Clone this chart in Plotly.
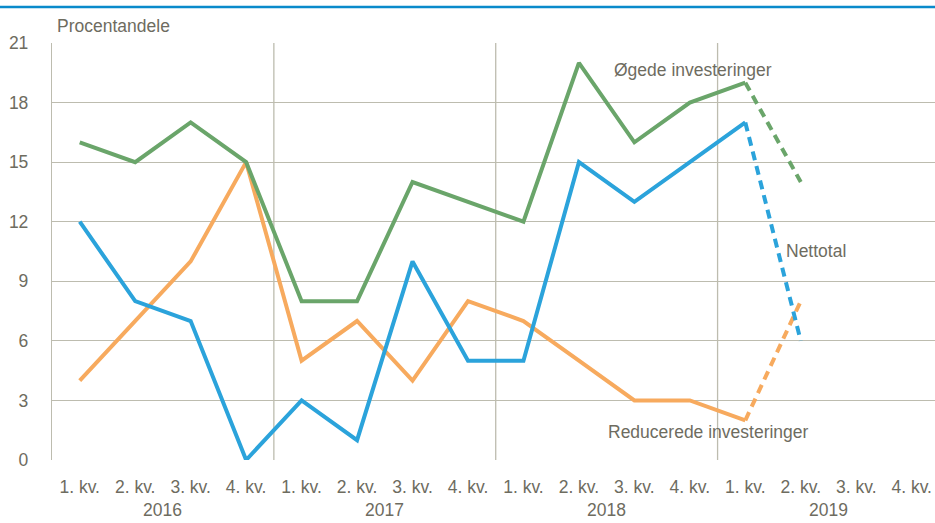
import plotly.graph_objects as go

quarters = ["1. kv.", "2. kv.", "3. kv.", "4. kv."] * 4
years = ["2016", "2017", "2018", "2019"]
oegede = [16, 15, 17, 15, 8, 8, 14, 13, 12, 20, 16, 18, 19, 14]
nettotal = [12, 8, 7, 0, 3, 1, 10, 5, 5, 15, 13, 15, 17, 6]
reducerede = [4, 7, 10, 15, 5, 7, 4, 8, 7, 5, 3, 3, 2, 8]
n_solid = 13  # observed values; last point is expectation (dashed)

C_GREEN = "#6aa56a"
C_BLUE = "#2ba3db"
C_ORANGE = "#f7aa5e"
TXT = "#6e6c5f"
GRID = "#bdbcaf"
FONT = "Liberation Sans, Arial, sans-serif"
FS = 17.5

x = list(range(len(quarters)))

fig = go.Figure()
for vals, col in [(reducerede, C_ORANGE), (oegede, C_GREEN), (nettotal, C_BLUE)]:
    fig.add_trace(go.Scatter(x=x[:n_solid], y=vals[:n_solid], mode="lines",
                             line=dict(color=col, width=4), hoverinfo="skip"))
    fig.add_trace(go.Scatter(x=x[n_solid - 1:len(vals)], y=vals[n_solid - 1:],
                             mode="lines", line=dict(color=col, width=4, dash="9px,6px"),
                             hoverinfo="skip"))

# year separators
for b in [3.5, 7.5, 11.5]:
    fig.add_shape(type="line", xref="x", yref="paper", x0=b, x1=b, y0=0, y1=1,
                  line=dict(color=GRID, width=1.3), layer="below")

# top blue rule
fig.add_shape(type="line", xref="paper", yref="paper", x0=-0.06, x1=1.0,
              y0=1.0 + 36 / 417, y1=1.0 + 36 / 417, line=dict(color="#0a8acb", width=2.5))

for i, yr in enumerate(years):
    fig.add_annotation(x=4 * i + 1.5, y=-50 / 417, yref="paper", xref="x", text=yr,
                       showarrow=False, font=dict(size=FS, color=TXT, family=FONT),
                       yanchor="middle")

fig.add_annotation(x=3 / 883, xref="paper", y=1.0 + 17 / 417, yref="paper",
                   text="Procentandele", showarrow=False, xanchor="left", yanchor="middle",
                   font=dict(size=FS, color=TXT, family=FONT))
fig.add_annotation(x=11.06, y=19.64, text="Øgede investeringer", showarrow=False,
                   font=dict(size=FS, color=TXT, family=FONT))
fig.add_annotation(x=13.27, y=10.55, text="Nettotal", showarrow=False,
                   font=dict(size=FS, color=TXT, family=FONT))
fig.add_annotation(x=11.33, y=1.41, text="Reducerede investeringer", showarrow=False,
                   font=dict(size=FS, color=TXT, family=FONT))

fig.update_layout(
    width=935, height=523,
    margin=dict(l=52, r=0, t=43, b=63),
    paper_bgcolor="white", plot_bgcolor="white",
    showlegend=False,
    font=dict(family=FONT, color=TXT, size=FS),
    xaxis=dict(range=[-0.5, 15.42], tickmode="array", tickvals=x, ticktext=quarters,
               showgrid=False, zeroline=False, showline=False, ticks="", automargin=False,
               ticklabelstandoff=14, tickfont=dict(size=FS, color=TXT, family=FONT)),
    yaxis=dict(range=[0, 21], tickmode="array", tickvals=list(range(0, 22, 3)),
               showgrid=True, gridcolor=GRID, gridwidth=1.3, zeroline=False, automargin=False,
               showline=True, linecolor=GRID, linewidth=1.3, ticks="",
               ticklabelstandoff=19, tickfont=dict(size=FS, color=TXT, family=FONT)),
)

fig.write_html("out.html", config={"displayModeBar": False},
               post_script="document.body.style.margin='0';document.body.style.overflow='hidden';")
